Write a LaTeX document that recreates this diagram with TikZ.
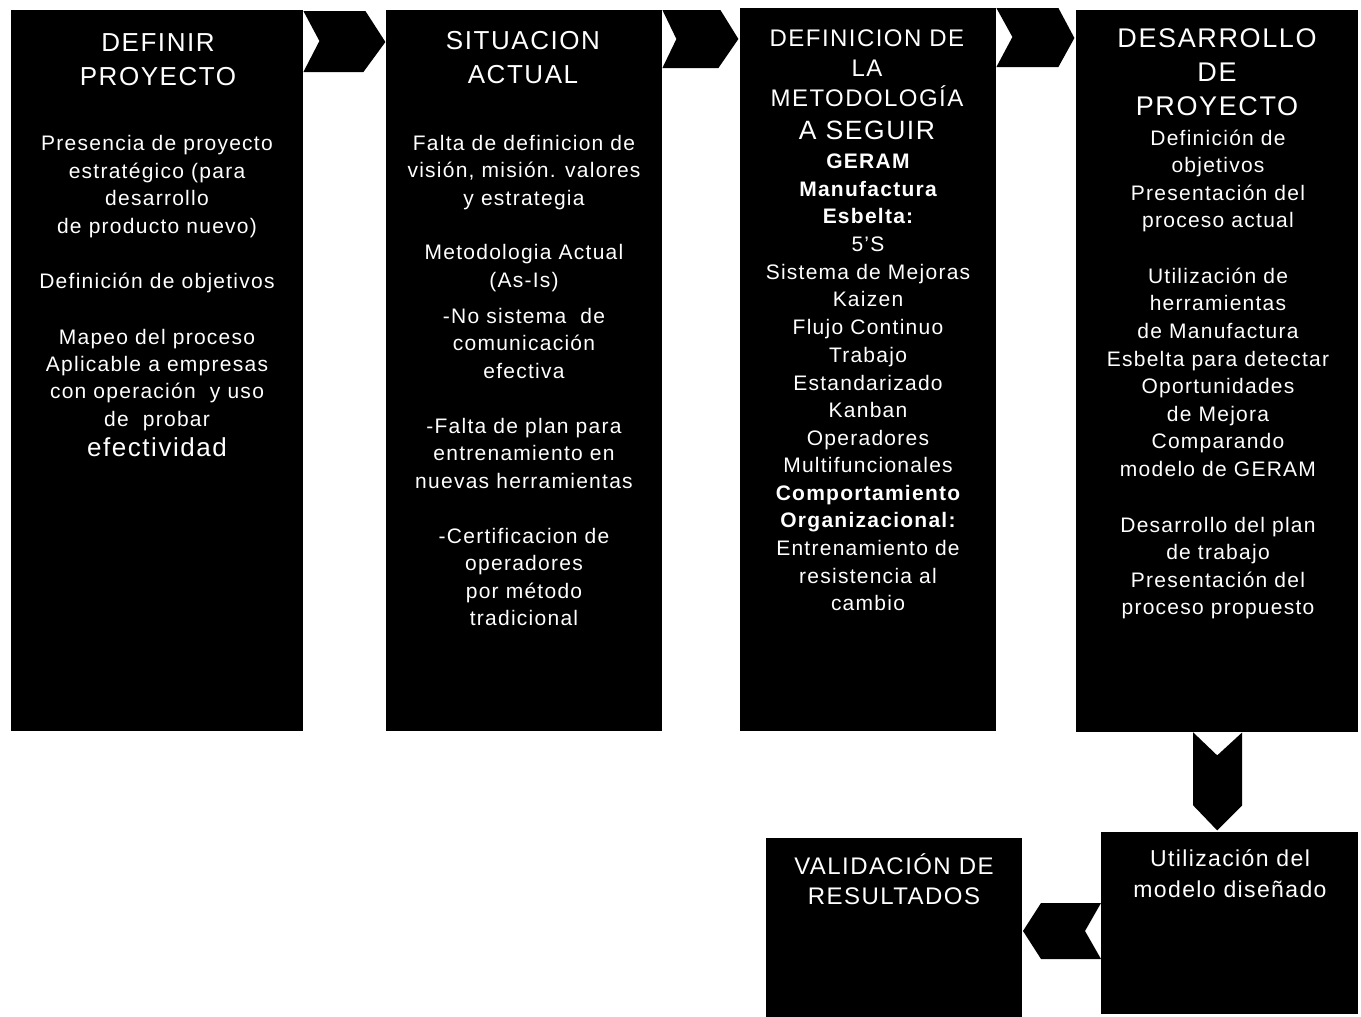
\documentclass[tikz,border=0pt]{standalone}
\usepackage{fontspec}
\newfontfamily\bodyf[LetterSpace=6]{Liberation Sans}
\usetikzlibrary{calc}
\begin{document}
\begin{tikzpicture}[x=1pt,y=-1pt,
  box/.style={fill=black, draw=none, inner sep=0, anchor=north west},
  bl/.style={anchor=base, inner sep=0, text=white, font=\bodyf\fontsize{21}{25}\selectfont},
  tl/.style={anchor=base, inner sep=0, text=white, font=\bodyf\fontsize{26}{30}\selectfont},
  chev/.style={fill=black, draw=none}]
\useasboundingbox[fill=white] (0,0) rectangle (1361,1017);
% boxes
\node[box, minimum width=292pt, minimum height=721pt] (b1) at (11,10) {};
\node[box, minimum width=276pt, minimum height=721pt] (b2) at (386,10) {};
\node[box, minimum width=256pt, minimum height=723pt] (b3) at (740,8) {};
\node[box, minimum width=282pt, minimum height=722pt] (b4) at (1076,10) {};
\node[box, minimum width=256pt, minimum height=179pt] (b5) at (766,838) {};
\node[box, minimum width=257pt, minimum height=182pt] (b6) at (1101,832) {};
% chevrons
\fill[chev] ([yshift=-1pt]b1.north east) -- ++(62,0) -- ++(20,31) -- ++(-22,30) -- ++(-60,0) -- ++(16,-31) -- cycle;
\fill[chev] (b2.north east) -- ++(58,0) -- ++(18,29) -- ++(-20,29) -- ++(-56,0) -- ++(14,-29) -- cycle;
\fill[chev] (b3.north east) -- ++(62,0) -- ++(16,30) -- ++(-16,29) -- ++(-62,0) -- ++(16,-30) -- cycle;
\fill[chev] ([xshift=-24pt]b4.south) -- ++(24,23) -- ++(25,-23) -- ++(0,73) -- ++(-25,25) -- ++(-24,-25) -- cycle;
\fill[chev] ([yshift=-71pt]b6.north west) -- ++(-60,0) -- ++(-18,28) -- ++(18,28) -- ++(60,0) -- ++(-16,-28) -- cycle;
% box 1
\foreach \y/\t [count=\i] in {42/DEFINIR, 76/PROYECTO}
  \node[tl] (t1\i) at (158,\y+9) {\t};
\foreach \y/\t [count=\i] in {143/Presencia de proyecto, 171/estratégico (para, 198/desarrollo, 226/de producto nuevo), 281/Definición de objetivos, 337/Mapeo del proceso, 364/Aplicable a empresas, 391/{con operación\ \ y uso}, 419/{de\ \ probar}, 449/{\fontsize{26}{30}\selectfont efectividad}}
  \node[bl] (l1\i) at (157,\y+7) {\t};
% box 2
\foreach \y/\t [count=\i] in {40/SITUACION, 74/ACTUAL}
  \node[tl] (t2\i) at (523,\y+9) {\t};
\foreach \y/\t [count=\i] in {143/Falta de definicion de, 170/{visión, misión. valores}, 198/y estrategia, 252/Metodologia Actual, 280/(As-Is), 316/{-No sistema\ \ de}, 343/comunicación, 371/efectiva, 426/-Falta de plan para, 453/entrenamiento en, 481/nuevas herramientas, 536/-Certificacion de, 563/operadores, 591/por método, 618/tradicional}
  \node[bl] (l2\i) at (524,\y+7) {\t};
% box 3
\foreach \y/\t [count=\i] in {38/DEFINICION DE, 68/LA, 98/METODOLOGÍA}
  \node[tl, font=\bodyf\fontsize{24}{28}\selectfont] (t3\i) at (867,\y+8.5) {\t};
\node[tl, font=\bodyf\fontsize{26.5}{30}\selectfont] (t34) at (867,130+9.5) {A SEGUIR};
\foreach \y/\t [count=\i] in {161/{\bfseries GERAM}, 189/{\bfseries Manufactura}, 216/{\bfseries Esbelta:}, 244/5’S, 272/Sistema de Mejoras, 299/Kaizen, 327/Flujo Continuo, 355/Trabajo, 383/Estandarizado, 410/Kanban, 438/Operadores, 465/Multifuncionales, 493/{\bfseries Comportamiento}, 520/{\bfseries Organizacional:}, 548/Entrenamiento de, 576/resistencia al, 603/cambio}
  \node[bl] (l3\i) at (868,\y+7) {\t};
% box 4
\foreach \y/\t [count=\i] in {38/DESARROLLO, 72/DE, 106/PROYECTO}
  \node[tl, font=\bodyf\fontsize{27}{31}\selectfont] (t4\i) at (1217,\y+9.5) {\t};
\foreach \y/\t [count=\i] in {138/Definición de, 165/objetivos, 193/Presentación del, 220/proceso actual, 276/Utilización de, 303/herramientas, 331/de Manufactura, 359/Esbelta para detectar, 386/Oportunidades, 414/de Mejora, 441/Comparando, 469/modelo de GERAM, 525/Desarrollo del plan, 552/de trabajo, 580/Presentación del, 607/proceso propuesto}
  \node[bl] (l4\i) at (1218,\y+7) {\t};
% box 5
\foreach \y/\t [count=\i] in {866/VALIDACIÓN DE, 896/RESULTADOS}
  \node[tl, font=\bodyf\fontsize{24}{28}\selectfont] (t5\i) at (894,\y+8.5) {\t};
% box 6
\foreach \y/\t [count=\i] in {858/Utilización del, 889/modelo diseñado}
  \node[bl, font=\bodyf\fontsize{23}{27}\selectfont] (t6\i) at (1230,\y+8) {\t};
\end{tikzpicture}
\end{document}
